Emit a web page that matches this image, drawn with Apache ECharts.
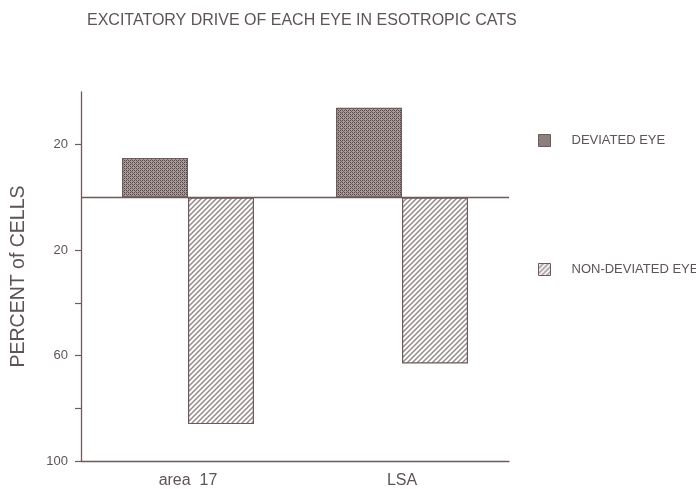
<!DOCTYPE html>
<html><head><meta charset="utf-8">
<script src="https://cdn.jsdelivr.net/npm/echarts@6/dist/echarts.min.js"></script>
<style>html,body{margin:0;padding:0;background:#fff}#c{width:696px;height:489px}</style>
</head><body><div id="c"></div>
<script>
var categories = ['area  17', 'LSA'];
var deviatedEye = [-15, -34];      // above the zero line (plotted upward)
var nonDeviatedEye = [86, 63];     // below the zero line (plotted downward)
var seriesNames = ['DEVIATED EYE', 'NON-DEVIATED EYE'];
var yLabelValues = [-20, 20, 60, 100];
var yTickValues = [-20, 20, 40, 60, 80, 100];

function stipple() {
  var c = document.createElement('canvas'); c.width = 4; c.height = 4;
  var g = c.getContext('2d');
  g.fillStyle = '#a89a9a'; g.fillRect(0, 0, 4, 4);
  g.fillStyle = '#584848';
  g.fillRect(0, 0, 1, 1); g.fillRect(2, 2, 1, 1); g.fillRect(2, 0, 1, 1); g.fillRect(0, 2, 1, 1);
  g.fillStyle = '#756666';
  g.fillRect(1, 1, 1, 1); g.fillRect(3, 3, 1, 1);
  return c;
}
function hatch() {
  var s = 5;
  var c = document.createElement('canvas'); c.width = s; c.height = s;
  var g = c.getContext('2d');
  g.fillStyle = '#ffffff'; g.fillRect(0, 0, s, s);
  g.strokeStyle = '#948a8a'; g.lineWidth = 1.5;
  g.beginPath();
  g.moveTo(-1, s + 1); g.lineTo(s + 1, -1);
  g.moveTo(-1, 1); g.lineTo(1, -1);
  g.moveTo(s - 1, s + 1); g.lineTo(s + 1, s - 1);
  g.stroke();
  return c;
}

var txt = '#5e5454';
var line = '#6e5a5a';
var chart = echarts.init(document.getElementById('c'), null, {renderer: 'canvas'});
chart.setOption({
  animation: false,
  backgroundColor: '#ffffff',
  title: {
    text: 'EXCITATORY DRIVE OF EACH EYE IN ESOTROPIC CATS',
    left: 82, top: 8,
    textStyle: {fontFamily: 'Liberation Sans, Arial, sans-serif', fontSize: 16, fontWeight: 'normal', color: txt}
  },
  legend: {
    orient: 'vertical', left: 533, top: 129,
    icon: 'rect',
    itemWidth: 12, itemHeight: 12, itemGap: 116,
    data: seriesNames,
    textStyle: {fontFamily: 'Liberation Sans, Arial, sans-serif', fontSize: 13, color: txt, padding: [0, 0, 0, 16]},
    itemStyle: {borderColor: line, borderWidth: 1}
  },
  grid: {left: 81, right: 187, top: 92, bottom: 27},
  xAxis: {
    type: 'category', data: categories, position: 'bottom',
    axisLine: {onZero: false, lineStyle: {color: line, width: 1.3}},
    axisTick: {show: false},
    axisLabel: {margin: 12, fontFamily: 'Liberation Sans, Arial, sans-serif', fontSize: 16, color: txt}
  },
  yAxis: {
    type: 'value', inverse: true, min: -40, max: 100, interval: 20,
    name: 'PERCENT of CELLS', nameLocation: 'middle', nameGap: 52,
    nameTextStyle: {fontFamily: 'Liberation Sans, Arial, sans-serif', fontSize: 19.5, color: txt},
    axisLine: {show: true, lineStyle: {color: line, width: 1.3}},
    axisTick: {show: true, inside: false, length: 6, customValues: yTickValues, lineStyle: {color: line, width: 1.2}},
    axisLabel: {margin: 13, customValues: yLabelValues, fontFamily: 'Liberation Sans, Arial, sans-serif', fontSize: 13, color: txt,
      formatter: function (v) { return String(Math.abs(v)); }},
    splitLine: {show: false}
  },
  series: [
    {
      name: seriesNames[0], type: 'bar', data: deviatedEye, barWidth: 66, barGap: '0%',
      itemStyle: {color: {image: stipple(), repetition: 'repeat'}, borderColor: line, borderWidth: 1.2},
      markLine: {silent: true, symbol: 'none', label: {show: false},
        lineStyle: {color: line, type: 'solid', width: 1.3}, data: [{yAxis: 0}]}
    },
    {
      name: seriesNames[1], type: 'bar', data: nonDeviatedEye, barWidth: 66, barGap: '0%',
      itemStyle: {color: {image: hatch(), repetition: 'repeat'}, borderColor: line, borderWidth: 1.2}
    }
  ]
});
</script></body></html>
